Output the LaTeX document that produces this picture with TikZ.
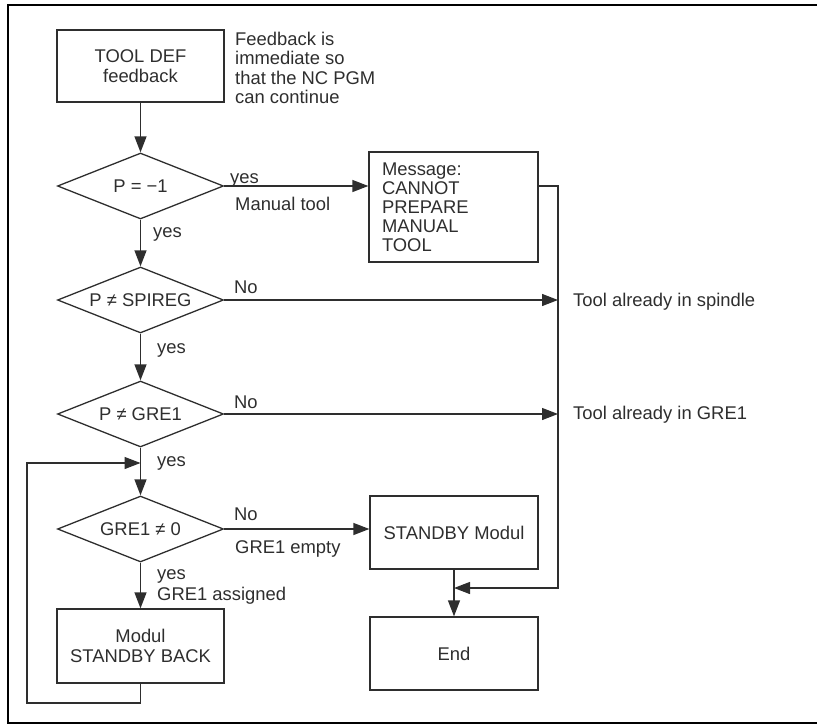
\documentclass[tikz,border=0pt]{standalone}
\usepackage{fontspec}
\setmainfont{Liberation Sans}
\usetikzlibrary{arrows.meta, shapes.geometric}

\definecolor{ink}{gray}{0.18}

\tikzset{
    block/.style={draw=ink, line width=1.3pt, rectangle, minimum width=168pt, minimum height=73pt, align=center, inner sep=0pt},
    decision/.style={draw=ink, line width=1.3pt, diamond, aspect=2.5, minimum width=166pt, minimum height=66pt, inner sep=0pt},
    lbl/.style={anchor=base west, inner sep=0pt},
    flow/.style={draw=ink, line width=1.3pt, -{Triangle[length=16pt, width=12pt]}},
}

\begin{document}
\begin{tikzpicture}[x=1pt, y=-1pt, every node/.style={font=\fontsize{18.4}{19.5}\selectfont, text=ink}]
    % Positions (y grows downwards)
    \def\mainX{140.5} % axis of the left column
    \def\sideX{454} % axis of the right column
    \def\busX{558} % vertical collecting line on the right

    \useasboundingbox (0,0) rectangle (817,725);

    % Frame, open on the right
    \draw[line width=2.5pt, black] (817,5) -- (8,5) -- (8,723) -- (817,723);

    % Left column
    \node[block, minimum width=167pt, minimum height=72pt] (tooldef) at (\mainX,66) {TOOL DEF\\feedback};
    \node[anchor=north west, align=left, inner sep=0pt] (note) at (235,31.6) {Feedback is\\immediate so\\that the NC PGM\\can continue};
    \node[decision] (manq) at (\mainX,186) {P = −1};
    \node[decision] (spiq) at (\mainX,300) {P ≠ SPIREG};
    \node[decision] (greq) at (\mainX,414) {P ≠ GRE1};
    \node[decision] (emptyq) at (\mainX,529) {GRE1 ≠ 0};
    \node[block, minimum width=167pt, minimum height=74pt] (back) at (\mainX,646) {Modul\\STANDBY BACK};

    % Right column
    \node[block, minimum width=169pt, minimum height=110pt, text width=143pt, align=left, font=\fontsize{18.4}{19}\selectfont] (msg) at (453.5,207) {Message:\\CANNOT\\PREPARE\\MANUAL\\TOOL};
    \node[block] (standby) at (\sideX,532.5) {STANDBY Modul};
    \node[block] (stop) at (\sideX,653.5) {End};
    \node[lbl] (spindle) at (573,306) {Tool already in spindle};
    \node[lbl] (ingre) at (573,419) {Tool already in GRE1};

    % Branch labels
    \node[lbl] (yesA) at (230,183) {yes};
    \node[lbl] (manual) at (235,210) {Manual tool};
    \node[lbl] (yesB) at (153,237) {yes};
    \node[lbl] (noB) at (234,293) {No};
    \node[lbl] (yesC) at (157,353) {yes};
    \node[lbl] (noC) at (234,408) {No};
    \node[lbl] (yesD) at (157,466) {yes};
    \node[lbl] (noD) at (234,520) {No};
    \node[lbl] (emptyl) at (235,553) {GRE1 empty};
    \node[lbl] (yesE) at (157,579) {yes};
    \node[lbl] (assigned) at (157,600) {GRE1 assigned};

    % Corner points of the routed lines
    \coordinate (bus) at (\busX,588);
    \coordinate (ret) at (27,703);
    \coordinate (merge) at (\mainX,463);

    % Main flow
    \draw[flow] (tooldef) -- (manq);
    \draw[flow] (manq) -- (spiq);
    \draw[flow] (spiq) -- (greq);
    \draw[flow] (greq) -- (emptyq);
    \draw[flow] (emptyq) -- (back);
    \draw[flow] (standby) -- (stop);

    % Branches to the right
    \draw[flow] (manq.east) -- (manq.east -| msg.west);
    \draw[flow] (spiq.east) -- (spiq.east -| bus);
    \draw[flow] (greq.east) -- (greq.east -| bus);
    \draw[flow] (emptyq.east) -- (emptyq.east -| standby.west);
    \draw[flow] (msg.east |- manq.east) -- (bus |- manq.east) -- (bus) -- (bus -| stop.north);

    % Loop back after STANDBY BACK
    \draw[flow] (back.south) |- (ret) |- (merge);
\end{tikzpicture}
\end{document}
